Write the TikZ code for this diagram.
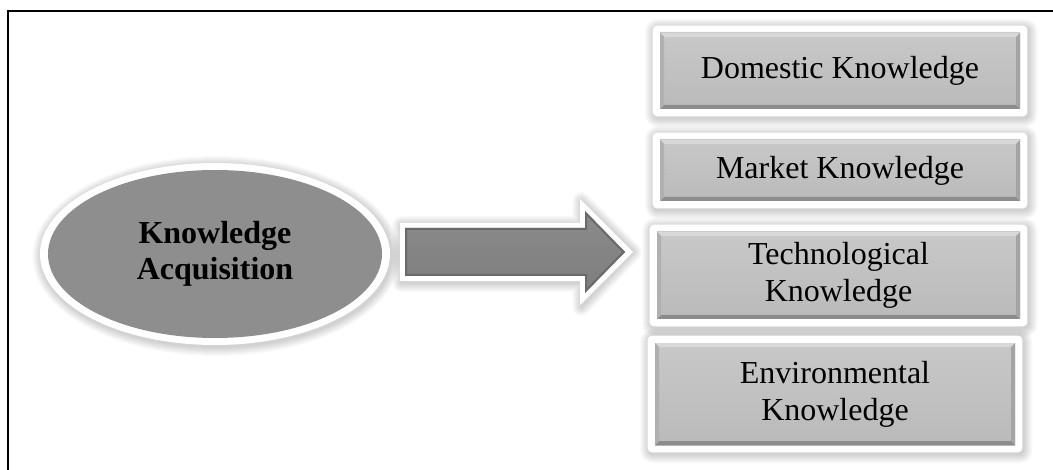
\documentclass[tikz,border=0pt]{standalone}
\usepackage{fontspec}
\setmainfont{Liberation Serif}
\usetikzlibrary{shapes.geometric}
\pgfdeclarelayer{paper}
\pgfdeclarelayer{back}
\pgfsetlayers{paper,back,main}
\definecolor{boxtop}{HTML}{C8C8C8}
\definecolor{boxbot}{HTML}{BABABA}
\definecolor{bevlight}{HTML}{D8D8D8}
\definecolor{bevdark}{HTML}{8C8C8C}
\definecolor{bevleft}{HTML}{B0B0B0}
\definecolor{bevright}{HTML}{A4A4A4}
\definecolor{ellin}{HTML}{8E8E8E}
\definecolor{ellout}{HTML}{666666}
\definecolor{arrtop}{HTML}{8C8C8C}
\definecolor{arrbot}{HTML}{7C7C7C}
\definecolor{arredge}{HTML}{6A6A6A}
\pgfdeclareradialshading{ellbevel}{\pgfpoint{0bp}{0bp}}{color(0bp)=(ellin); color(40bp)=(ellin); color(46bp)=(ellout!55!ellin); color(50bp)=(ellout)}
\tikzset{
  kbox/.style={rectangle, inner sep=0pt, top color=boxtop, bottom color=boxbot,
    align=center, font=\fontsize{24}{27.75}\selectfont,
    path picture={
      \coordinate (pNW) at (path picture bounding box.north west);
      \coordinate (pNE) at (path picture bounding box.north east);
      \coordinate (pSW) at (path picture bounding box.south west);
      \coordinate (pSE) at (path picture bounding box.south east);
      \fill[bevlight] (pNW) -- (pNE) -- ([shift={(-3pt,-3pt)}]pNE) -- ([shift={(3pt,-3pt)}]pNW) -- cycle;
      \fill[bevdark] (pSW) -- (pSE) -- ([shift={(-3pt,3pt)}]pSE) -- ([shift={(3pt,3pt)}]pSW) -- cycle;
      \fill[bevleft] (pNW) -- ([shift={(3pt,-3pt)}]pNW) -- ([shift={(3pt,3pt)}]pSW) -- (pSW) -- cycle;
      \fill[bevright] (pNE) -- ([shift={(-3pt,-3pt)}]pNE) -- ([shift={(-3pt,3pt)}]pSE) -- (pSE) -- cycle;
    }},
  softshadow/.style={black, opacity=0.018},
  kellipse/.style={ellipse, inner sep=0pt, shade, shading=ellbevel, align=center,
    font=\bfseries\fontsize{24}{27}\selectfont},
  framerule/.style={line width=1.5pt, black},
}
\begin{document}
\begin{tikzpicture}[x=0.75pt, y=-0.75pt]
\useasboundingbox (0,0) rectangle (1053,470);
\begin{pgfonlayer}{paper}
\fill[white] (0,0) rectangle (1053,470);
\end{pgfonlayer}
\draw[framerule] (8,470) -- (8,11.5) -- (1053,11.5);

% nodes
\node[kellipse, minimum width=250.5pt, minimum height=126pt] (ka) at (215,254) {Knowledge\\Acquisition};
\node[kbox, minimum width=270pt, minimum height=57pt] (dk) at (840,71) {Domestic Knowledge};
\node[kbox, minimum width=270pt, minimum height=45.75pt] (mk) at (840,170.5) {Market Knowledge};
\node[kbox, minimum width=272.25pt, minimum height=65.25pt] (tk) at (838.5,275.5) {Technological\\Knowledge};
\node[kbox, minimum width=270pt, minimum height=76.5pt] (ek) at (835,394) {Environmental\\Knowledge};

\begin{pgfonlayer}{back}
  \foreach \e in {1,...,9}{
    \fill[softshadow] ([shift={(1pt,-1.5pt)}]ka.center) ellipse [x radius={131.25pt+\e*0.75pt}, y radius={68.25pt+\e*0.75pt}];
  }
  \fill[white] (ka.center) ellipse [x radius=131.25pt, y radius=68.25pt];
  \foreach \b in {dk,mk,tk,ek}{
    \foreach \e in {1,...,9}{
      \fill[softshadow, rounded corners={3pt+\e*0.75pt}]
        ([shift={({-4.25pt-\e*0.75pt},{3.75pt+\e*0.75pt})}]\b.north west) rectangle
        ([shift={({6.25pt+\e*0.75pt},{-6.75pt-\e*0.75pt})}]\b.south east);
    }
    \fill[white, rounded corners=3pt] ([shift={(-5.25pt,5.25pt)}]\b.north west) rectangle ([shift={(5.25pt,-5.25pt)}]\b.south east);
  }
  % block arrow shadow and white rim
  \coordinate (arrtip) at (633,252);
  \foreach \e in {1,...,9}{
    \draw[softshadow, line width={\e*1.5pt}, line join=round, shift={(1pt,-1.5pt)}]
      (400,223) -- (580,223) -- (580,199) -- (arrtip) -- (580,305) -- (580,281) -- (400,281) -- cycle;
  }
  \fill[white]
    (400,223) -- (580,223) -- (580,199) -- (arrtip) -- (580,305) -- (580,281) -- (400,281) -- cycle;
\end{pgfonlayer}

% block arrow body
\begin{scope}
  \clip (405,228) -- (585,228) -- (585,211) -- (625,252) -- (585,293) -- (585,276) -- (405,276) -- cycle;
  \shade[top color=arrtop, bottom color=arrbot] (400,205) rectangle (630,300);
  \draw[arredge, line width=3pt, line join=miter]
    (405,228) -- (585,228) -- (585,211) -- (625,252) -- (585,293) -- (585,276) -- (405,276) -- cycle;
\end{scope}
\end{tikzpicture}
\end{document}
